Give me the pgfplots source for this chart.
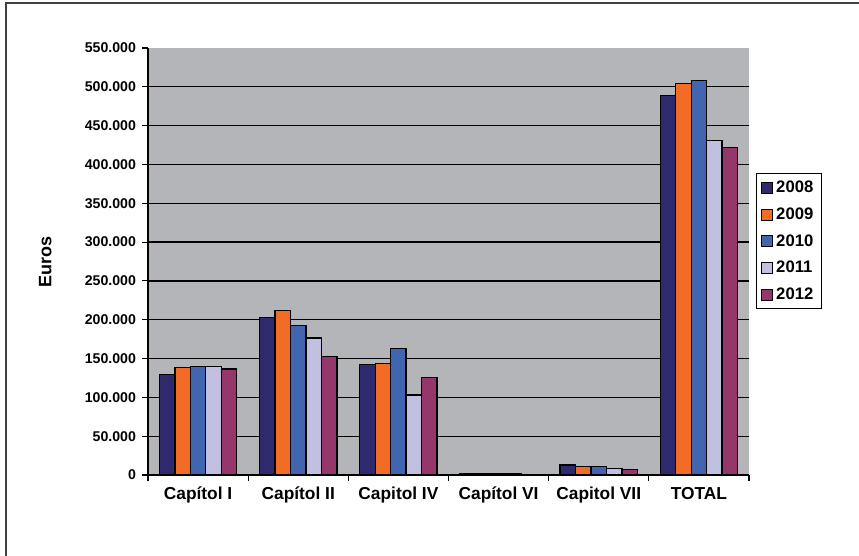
\documentclass[border=0pt]{standalone}
\usepackage{fontspec}
\setmainfont{Liberation Sans}
\usepackage{pgfplots}
\pgfplotsset{compat=1.18}
\definecolor{cA}{RGB}{47,42,110}
\definecolor{cB}{RGB}{242,108,38}
\definecolor{cC}{RGB}{66,101,176}
\definecolor{cD}{RGB}{193,192,225}
\definecolor{cE}{RGB}{149,55,107}
\definecolor{bg}{RGB}{180,181,185}
\begin{document}
\begin{tikzpicture}[x=0.75pt,y=0.75pt]
\path[use as bounding box] (0,0) rectangle (859,556);
\draw[black!75, line width=1.5pt] (5.5,0) -- (5.5,552.5) -- (859,552.5);
\begin{axis}[
  at={(111pt,60.75pt)}, anchor=south west,
  scale only axis, width=450.75pt, height=320.25pt,
  ybar=0pt, bar width=11.6pt,
  xmin=-0.5, xmax=5.5, ymin=0, ymax=550000,
  axis background/.style={fill=bg},
  axis x line*=bottom, axis y line*=left,
  axis line style={black, line width=1pt},
  xtick={0,...,5},
  xticklabels={Capítol I,Capítol II,Capitol IV,Capítol VI,Capitol VII,TOTAL},
  major x tick style={draw=none},
  minor xtick={-0.5,0.5,...,5.5},
  minor x tick style={black, line width=0.8pt},
  minor tick length=4.5pt,
  ytick={0,50000,...,500000},
  extra y ticks={550000},
  extra y tick style={grid=none},
  ymajorgrids, y grid style={black, line width=0.9pt},
  tick align=outside, major tick length=4.5pt,
  y tick style={black, line width=0.8pt},
  scaled y ticks=false,
  /pgf/number format/.cd, fixed, 1000 sep={.}, assume math mode=true,
  /pgfplots/.cd,
  yticklabel style={font=\fontsize{10.6}{12}\selectfont\bfseries, xshift=-1pt},
  xticklabel style={font=\fontsize{13}{14}\selectfont\bfseries, yshift=-1pt},
  ylabel={Euros},
  ylabel style={font=\fontsize{13.5}{14}\selectfont\bfseries, at={(rel axis cs:-0.171,0.5)}, anchor=center},
  legend style={at={(rel axis cs:1.0116,0.707)}, anchor=north west,
    draw=black, line width=0.8pt, font=\fontsize{12.5}{13}\selectfont\bfseries,
    row sep=5.8pt, inner xsep=3.5pt, inner ysep=3.5pt,
    nodes={inner xsep=2.5pt}},
  legend cell align=left,
  legend image code/.code={\draw[#1, line width=0.6pt] (0pt,-4.1pt) rectangle (8.2pt,4.1pt);},
  every axis plot/.append style={draw=black, line width=1pt},
]
\addplot[fill=cA] coordinates {(0,129700) (1,203100) (2,142100) (3,1600) (4,12900) (5,489000)};
\addplot[fill=cB] coordinates {(0,138200) (1,211600) (2,143900) (3,1600) (4,10700) (5,504500)};
\addplot[fill=cC] coordinates {(0,140000) (1,192800) (2,162700) (3,1600) (4,10700) (5,508000)};
\addplot[fill=cD] coordinates {(0,139500) (1,176500) (2,103000) (3,1600) (4,8600) (5,431000)};
\addplot[fill=cE] coordinates {(0,136500) (1,152400) (2,125800) (3,0) (4,6900) (5,422000)};
\legend{2008,2009,2010,2011,2012}
\end{axis}
\end{tikzpicture}
\end{document}
